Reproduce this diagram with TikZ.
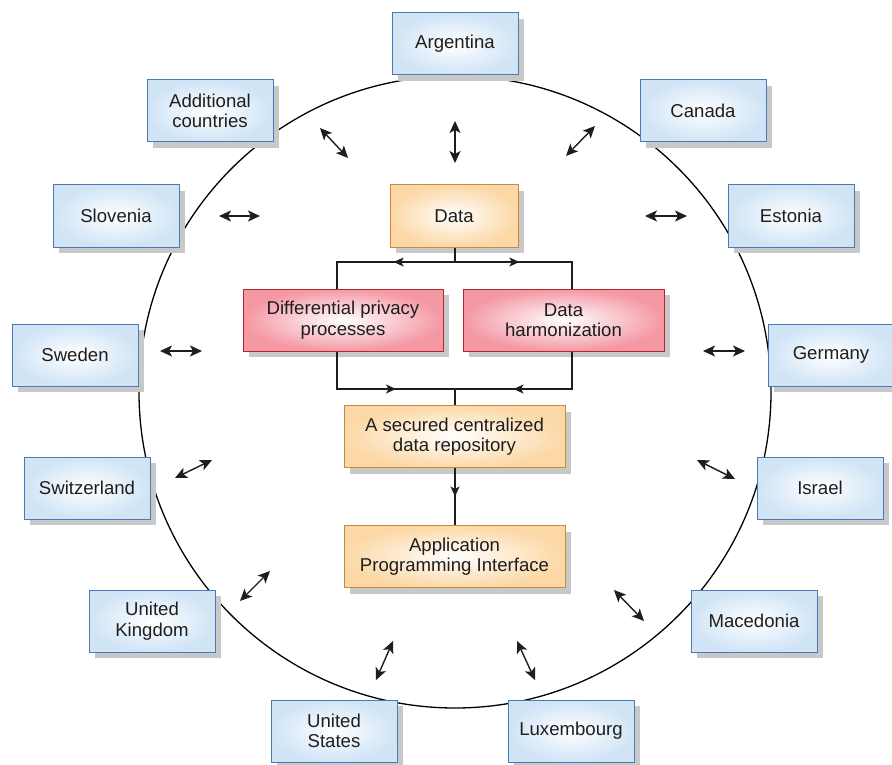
\documentclass[tikz,border=0pt]{standalone}
\usepackage{fontspec}
\setmainfont{Liberation Sans}
\usetikzlibrary{arrows.meta,shadows,calc}
\definecolor{bluebd}{RGB}{72,122,182}
\definecolor{bluefill}{RGB}{208,228,246}
\definecolor{orabd}{RGB}{200,138,58}
\definecolor{orafill}{RGB}{252,216,166}
\definecolor{redbd}{RGB}{178,38,48}
\definecolor{redfill}{RGB}{244,152,164}
\definecolor{shadowgray}{RGB}{200,200,200}
\definecolor{txt}{RGB}{30,30,30}
\begin{document}
\begin{tikzpicture}[x=1pt,y=-1pt,
  box/.style={draw, line width=1pt, font=\fontsize{18.6}{20.5}\selectfont, text=txt,
    align=center, inner sep=0pt, minimum height=62pt,
    drop shadow={shadow xshift=6pt, shadow yshift=-6pt, fill=shadowgray, opacity=1}},
  country/.style={box, draw=bluebd, inner color=white, outer color=bluefill, minimum width=126pt},
  obox/.style={box, draw=orabd, inner color=white, outer color=orafill},
  rbox/.style={box, draw=redbd, inner color=white, outer color=redfill},
  flow/.style={line width=1.1pt, draw=txt},
  tipflow/.style={flow, -{Stealth[length=10pt,width=9pt,inset=2.5pt]}},
  dbl/.style={line width=1.4pt, draw=txt, {Stealth[length=12pt,width=11pt,inset=3pt]}-{Stealth[length=12pt,width=11pt,inset=3pt]}}
]
\useasboundingbox (0,0) rectangle (892,765);
\fill[white] (0,0) rectangle (892,765);

% big circle
\node[draw=black, line width=1.3pt, circle, minimum size=632pt, inner sep=0pt] (ring) at (455,392) {};

% countries
\node[country] (arg) at (455,44) {Argentina};
\node[country] (can) at (703,111) {Canada};
\node[country] (add) at (210,111) {Additional\\countries};
\node[country] (slo) at (116,216) {Slovenia};
\node[country] (est) at (791,216) {Estonia};
\node[country] (swe) at (75,355) {Sweden};
\node[country] (ger) at (831,355) {Germany};
\node[country] (swi) at (87,488) {Switzerland};
\node[country] (isr) at (820,488) {Israel};
\node[country] (uk) at (152,621) {United\\Kingdom};
\node[country] (mac) at (754,621) {Macedonia};
\node[country] (us) at (334,731) {United\\States};
\node[country] (lux) at (571,731) {Luxembourg};

% central boxes
\node[obox, minimum width=128pt] (data) at (454,216) {Data};
\node[rbox, minimum width=200pt] (dp) at (343,320) {Differential privacy\\processes};
\node[rbox, minimum width=201pt] (dh) at (563.5,320) {Data\\harmonization};
\node[obox, minimum width=221pt] (rep) at (454.5,436.5) {A secured centralized\\data repository};
\node[obox, minimum width=221pt] (api) at (454.5,556.5) {Application\\Programming Interface};

% central connectors
\coordinate (jt) at (455,262);
\coordinate (tl) at (337,262);
\coordinate (tr) at (572,262);
\coordinate (bl) at (337,389);
\coordinate (br) at (572,389);
\coordinate (jb) at (455,389);
\draw[flow] (data.south -| jt) -- (jt);
\draw[flow] (jt) -- (tl) -- (tl |- dp.north);
\draw[flow] (jt) -- (tr) -- (tr |- dh.north);
\draw[tipflow] (jt) -- ($(jt)!0.52!(tl)$);
\draw[tipflow] (jt) -- ($(jt)!0.55!(tr)$);
\draw[flow] (bl |- dp.south) -- (bl) -- (br) -- (br |- dh.south);
\draw[tipflow] (bl) -- ($(bl)!0.5!(jb)$);
\draw[tipflow] (br) -- ($(br)!0.5!(jb)$);
\draw[flow] (jb) -- (jb |- rep.north);
\draw[flow] (rep.south -| jb) -- (api.north -| jb);
\draw[tipflow] (rep.south -| jb) -- ($(rep.south -| jb)!0.5!(api.north -| jb)$);

% double arrows
\coordinate (argA) at (455,121); \coordinate (argB) at (455,163);
\coordinate (canA) at (595,126); \coordinate (canB) at (566,156);
\coordinate (addA) at (320,128); \coordinate (addB) at (348,158);
\coordinate (sloA) at (219,216); \coordinate (sloB) at (260,216);
\coordinate (estA) at (645,216); \coordinate (estB) at (687,216);
\coordinate (sweA) at (160,351); \coordinate (sweB) at (202,351);
\coordinate (gerA) at (703,351); \coordinate (gerB) at (745,351);
\coordinate (swiA) at (175,478); \coordinate (swiB) at (212,460);
\coordinate (isrA) at (697,460); \coordinate (isrB) at (735,479);
\coordinate (ukA) at (240,601); \coordinate (ukB) at (270,571);
\coordinate (macA) at (614,590); \coordinate (macB) at (644,621);
\coordinate (usA) at (376,680); \coordinate (usB) at (393,641);
\coordinate (luxA) at (517,641); \coordinate (luxB) at (535,680);
\foreach \n in {arg,can,add,slo,est,swe,ger,swi,isr,uk,mac,us,lux}
  \draw[dbl] (\n A) -- (\n B);
\end{tikzpicture}
\end{document}
